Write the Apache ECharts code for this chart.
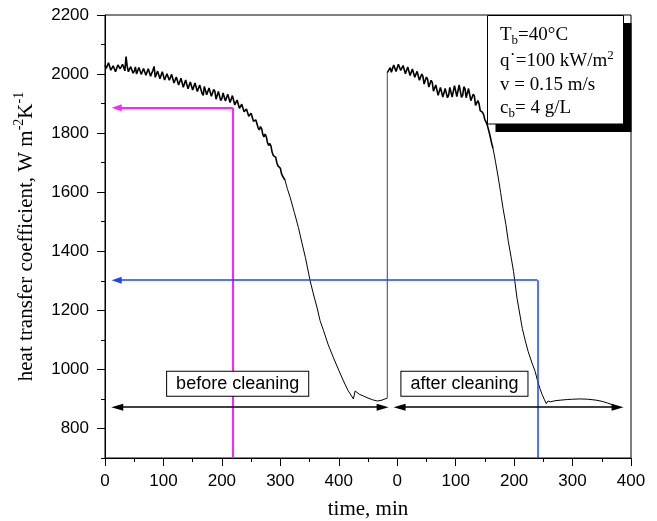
<!DOCTYPE html>
<html><head><meta charset="utf-8">
<script src="https://cdn.jsdelivr.net/npm/echarts@6/dist/echarts.min.js"></script>
<style>html,body{margin:0;padding:0;background:#fff}#c{width:657px;height:521px}</style>
</head><body><div id="c"></div>
<script>
// Combined time axis: first run 0..~485 min, second run's "0" placed at 500.
const xTickLabels = ['0','100','200','300','400','0','100','200','300','400'];
const yTickValues = [800,1000,1200,1400,1600,1800,2000,2200];

const run1Time = [0,2,4,6,8,10,12,14,16,18,20,22,24,26,28,30,32,34,36,38,40,42,44,46,48,50,52,54,56,58,60,62,64,66,68,70,72,74,76,78,80,82,84,86,88,90,92,94,96,98,
100,102,104,106,108,110,112,114,116,118,120,122,124,126,128,130,132,134,136,138,140,142,144,146,148,150,152,154,156,158,160,162,164,166,168,170,172,174,176,178,180,182,184,186,188,190,192,194,196,198,
200,202,204,206,208,210,212,214,216,218,220,222,224,226,228,230,232,234,236,238,240,242,244,246,248,250,252,254,256,258,260,262,264,266,268,270,272,274,276,278,280,282,284,286,288,290,292,294,296,298,
300,302,304,306,308,
312,317,324,331,337,343,351,357,363,368,374,382,391,400,408,416,425,428,435,442,450,458,466,474,483];
const run1Value = [2030,2019,2013,2038,2034,2013,2016,2028,2029,2008,2008,2031,2030,2018,2015,2033,2032,2011,2059,2026,2008,2003,2025,2028,2003,2010,2024,2000,2006,2022,2025,1999,1998,2019,2014,1996,1991,2018,2015,1993,1995,2013,2026,1989,1987,2010,2006,1984,1985,2008,
2005,1980,1977,2001,1996,1979,1977,1999,1996,1970,1968,1990,1985,1963,1964,1986,1985,1955,1955,1980,1975,1950,1947,1973,1971,1946,1951,1970,1969,1941,1941,1963,1959,1935,1928,1958,1955,1930,1933,1953,1952,1925,1922,1948,1941,1915,1913,1941,1937,1910,
1917,1936,1934,1909,1906,1932,1934,1904,1907,1927,1922,1896,1894,1912,1908,1884,1882,1898,1893,1872,1866,1882,1877,1857,1852,1867,1862,1840,1834,1845,1842,1818,1811,1822,1815,1796,1787,1797,1788,1768,1758,1765,1756,1735,1724,1728,1719,1700,1689,1689,
1681,1663,1654,1651,1641,
1612,1581,1531,1480,1428,1378,1300,1252,1208,1165,1131,1083,1039,997,961,928,900,927,916,910,903,897,893,896,903];
const run1NoisyEnd = 308;   // measurement noise visible up to this time

const run2Time = [483,483,488,490,492,494,496,498,500,502,504,506,508,510,512,514,516,518,520,522,524,526,528,530,532,534,536,538,540,542,544,546,548,550,552,554,556,558,560,562,564,566,568,570,572,574,576,578,580,582,584,586,588,590,592,594,596,598,
600,602,604,606,608,610,612,614,616,618,620,622,624,626,628,630,632,634,636,638,640,642,644,646,648,650,652,654,656,658,660,662,664,
668,673,677,681,686,690,695,699,705,710,714,719,724,730,736,740,744,748,752,755,758,762,770,780,791,800,813,826,840,850,860,870,877];
const run2Value = [903,2005,2022,2006,2008,2031,2030,2009,2014,2033,2036,2012,2010,2029,2026,2001,2004,2024,2018,1995,1998,2017,2012,1989,1990,2009,2003,1979,1978,2000,1992,1966,1968,1990,1982,1956,1957,1979,1971,1942,1944,1963,1958,1928,1931,1955,1950,1922,1925,1951,1948,1920,1929,1955,1952,1922,1926,1961,
1955,1924,1930,1963,1958,1921,1928,1957,1950,1920,1925,1951,1946,1910,1915,1932,1925,1894,1898,1910,1900,1876,1872,1870,1862,1845,1838,1828,1822,1798,1780,1762,1748,
1705,1648,1598,1546,1490,1434,1378,1332,1241,1184,1139,1098,1061,1025,993,962,936,915,897,884,893,890,894,896,898,899,900,899,896,892,886,879,873];
const run2NoisyEnd = 664;

// Guide lines: [time, value]
const magentaGuide = [[218.5,700],[218.5,1886],[20,1886]];
const blueGuide = [[740,700],[740,1302],[20,1302]];
const beforeArrow = [[21,872],[475,872]];
const afterArrow = [[504,872],[877,872]];
const regionLabels = [
  {t:227, v:951, text:'before cleaning'},
  {t:615, v:951, text:'after cleaning'}
];

const zip = (a,b) => a.map((t,i)=>[t,b[i]]);
const serif = 'Liberation Serif';
const sans = 'Liberation Sans';

const run1 = zip(run1Time, run1Value);
const run2 = zip(run2Time, run2Value);
const r1cut = run1Time.indexOf(run1NoisyEnd);
const r2cut = run2Time.indexOf(run2NoisyEnd);
const run1Noisy = run1.slice(0, r1cut + 1), run1Smooth = run1.slice(r1cut);
const run2Jump = run2.slice(0, 2), run2Noisy = run2.slice(1, r2cut + 1), run2Smooth = run2.slice(r2cut);

function guideLines(pts, color, width) {
  return [
    [{coord:pts[0], symbol:'none', lineStyle:{color, width, type:'solid'}}, {coord:pts[1], symbol:'none'}],
    [{coord:pts[1], symbol:'none', lineStyle:{color, width, type:'solid'}}, {coord:pts[2], symbol:'triangle', symbolSize:[7,10]}]
  ];
}
function dblArrow(pts) {
  return [{coord:pts[0], symbol:'triangle', symbolSize:[7,12], lineStyle:{color:'#000', width:1.5, type:'solid'}},
          {coord:pts[1], symbol:'triangle', symbolSize:[7,12]}];
}
function curve(data, width, color) {
  return {type:'line', data, showSymbol:false, symbol:'none', lineStyle:{color:color||'#000', width}, z:3, silent:true};
}

const chart = echarts.init(document.getElementById('c'), null, {renderer:'canvas'});
const richText = {
  n:{fontSize:19, fontFamily:serif, lineHeight:24, fill:'#000'},
  sub:{fontSize:13, fontFamily:serif, lineHeight:12, verticalAlign:'bottom', fill:'#000'},
  sup:{fontSize:13, fontFamily:serif, lineHeight:10, verticalAlign:'top', fill:'#000'}
};
const boxLines = [
  {y:35, text:'{n|T}{sub|b}{n|=40°C}'},
  {y:61, text:'{n|q˙=100 kW/m}{sup|2}'},
  {y:85, text:'{n|v = 0.15 m/s}'},
  {y:108, text:'{n|c}{sub|b}{n|= 4 g/L}'}
];

const labelSeries = {type:'line', name:'labels', data:[], z:2, silent:true,
  markPoint:{silent:true, symbol:'rect', symbolSize:0, animation:false,
    data:regionLabels.map(d=>({coord:[d.t,d.v], value:d.text,
      label:{show:true, position:'inside', formatter:d.text, fontFamily:sans, fontSize:18, lineHeight:19, color:'#000',
             backgroundColor:'#fff', borderColor:'#000', borderWidth:1, padding:[3,9,2,9]}}))}};

chart.setOption({
  animation:false,
  backgroundColor:'#fff',
  grid:{left:105, right:26, top:15, bottom:63, containLabel:false, outerBoundsMode:'none',
        show:true, borderColor:'#000', borderWidth:1, backgroundColor:'transparent'},
  xAxis:{
    type:'value', min:0, max:900, interval:100,
    name:'time, min', nameLocation:'middle', nameGap:41,
    nameTextStyle:{fontFamily:serif, fontSize:21, color:'#000'},
    axisLine:{show:true, lineStyle:{color:'#000', width:1}},
    axisTick:{show:true, inside:false, length:8, lineStyle:{color:'#000'}},
    minorTick:{show:true, splitNumber:2, length:4, lineStyle:{color:'#000'}},
    splitLine:{show:false}, minorSplitLine:{show:false},
    axisLabel:{formatter:v=>xTickLabels[Math.round(v/100)], fontFamily:sans, fontSize:17, color:'#000', margin:15}
  },
  yAxis:[{
    type:'value', min:700, max:2200, interval:100,
    name:'{a|heat transfer coefficient, W m}{s|-2}{a|K}{s|-1}', nameLocation:'middle', nameGap:65,
    nameTextStyle:{rich:{a:{fontFamily:serif, fontSize:21, lineHeight:28, color:'#000'}, s:{fontFamily:serif, fontSize:14, lineHeight:12, verticalAlign:'top', color:'#000'}}},
    axisLine:{show:true, lineStyle:{color:'#000', width:1}},
    axisTick:{show:true, inside:false, length:4, lineStyle:{color:'#000'}},
    splitLine:{show:false},
    axisLabel:{formatter:v=>(yTickValues.indexOf(v)>=0 ? String(v) : ''), fontFamily:sans, fontSize:17, color:'#000', margin:16}
  },{
    type:'value', min:700, max:2200, interval:100, position:'left',
    axisLine:{show:false},
    axisTick:{show:true, inside:false, length:8, customValues:yTickValues, lineStyle:{color:'#000'}},
    axisLabel:{show:false}, splitLine:{show:false}
  }],
  series:[
    labelSeries,
    curve(run1Noisy, 1.6), curve(run1Smooth, 1),
    curve(run2Jump, 1, '#444'), curve(run2Noisy, 1.6), curve(run2Smooth, 1),
    {type:'line', name:'guides', data:[], z:5, silent:true,
     markLine:{silent:true, animation:false, label:{show:false}, emphasis:{disabled:true},
       data:[...guideLines(magentaGuide, '#ff22ff', 2), ...guideLines(blueGuide, '#1a44ff', 1.5), dblArrow(beforeArrow), dblArrow(afterArrow)]}
    }
  ],
  graphic:[
    {type:'rect', z:100, shape:{x:495.5, y:23, width:136, height:109}, style:{fill:'#000'}},
    {type:'rect', z:101, shape:{x:487.5, y:15.5, width:136, height:108.5}, style:{fill:'#fff', stroke:'#000', lineWidth:1}},
    ...boxLines.map(l=>({type:'text', z:102, x:500, y:l.y, style:{text:l.text, rich:richText, verticalAlign:'middle', align:'left'}}))
  ]
});
</script></body></html>
